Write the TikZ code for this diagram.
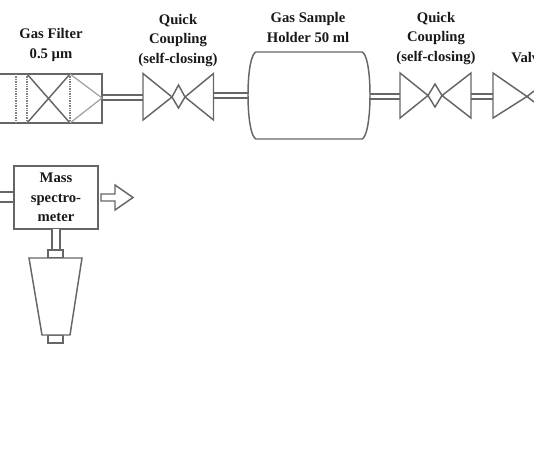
\documentclass[tikz,border=0pt]{standalone}
\usepackage{fontspec}
\setmainfont{Liberation Serif}
\usepackage{tikz}
\usetikzlibrary{positioning}

\begin{document}
\begin{tikzpicture}[
    x=0.75pt, y=-0.75pt,
    line/.style={draw=black!60, line width=1.1pt, line join=miter},
    faint/.style={draw=black!38, line width=0.9pt},
    dots/.style={draw=black!50, line width=1.1pt, dash pattern=on 1pt off 0.8pt},
    pipe/.style={draw=black!60, line width=1pt, double=white, double distance=2.6pt},
    widepipe/.style={pipe, double distance=6.4pt},
    lbl/.style={font=\fontsize{11pt}{14.6pt}\selectfont\bfseries, align=center, inner sep=0pt, text=black!90},
    box/.style={line, rectangle, inner sep=0pt},
    capbox/.style={box, minimum width=11.25pt, minimum height=6pt},
]
\useasboundingbox (0,0) rectangle (534,462);
\begin{scope}
\clip (0,0) rectangle (534,462);

% pipe ends
\coordinate (filterR) at (102,97.5);
\coordinate (couplingAL) at (143,97.5);
\coordinate (couplingAR) at (214,95.5);
\coordinate (holderL) at (248,95.5);
\coordinate (holderR) at (370,96.5);
\coordinate (couplingBL) at (400,96.5);
\coordinate (couplingBR) at (471,96.5);
\coordinate (valveL) at (493,96.5);
\coordinate (specIn) at (0,197);
\coordinate (specInEnd) at (14,197);
\coordinate (specOut) at (56,229);

\draw[pipe] (filterR) -- (couplingAL);
\draw[pipe] (couplingAR) -- (holderL);
\draw[pipe] (holderR) -- (couplingBL);
\draw[pipe] (couplingBR) -- (valveL);
\draw[widepipe] (specIn) -- (specInEnd);

% filter
\node[box, minimum width=91.5pt, minimum height=36.75pt] (filter) at (41,98.5) {};
\draw[dots] (16,74) -- (16,123) (27,74) -- (27,123) (70,74) -- (70,123);
\draw[line] (27,74) -- (70,123) (27,123) -- (70,74);
\draw[faint] (70,74) -- (102,98) -- (70,123);

% couplings
\draw[line] (143,73.5) -- (172,97) -- (143,120) -- cycle;
\draw[line] (172,97) -- (178.5,85) -- (185,97) -- (178.5,108) -- cycle;
\draw[line] (213.5,73.5) -- (185,97) -- (213.5,120) -- cycle;

\draw[line] (400,73) -- (428,95.5) -- (400,118) -- cycle;
\draw[line] (428,95.5) -- (435,84) -- (442,95.5) -- (435,107) -- cycle;
\draw[line] (471,73) -- (442,95.5) -- (471,118) -- cycle;

% valve
\draw[line] (493,73) -- (527,96.5) -- (493,118) -- cycle;
\draw[line] (527,96.5) -- (534,91) (527,96.5) -- (534,102);

% holder
\draw[line] (256,52) -- (362,52) .. controls (366,53) and (370,68) .. (370,95)
    .. controls (370,122) and (366,138) .. (362,139) -- (256,139)
    .. controls (252,138) and (248,122) .. (248,95)
    .. controls (248,68) and (252,53) .. (256,52) -- cycle;

% mass spectrometer
\node[box, lbl, minimum width=63pt, minimum height=47.25pt, draw=black!60] (spec) at (56,197.5) {Mass\\spectro-\\meter};
\node[capbox] (capTop) at (55.5,254) {};
\node[capbox] (capBot) at (55.5,339) {};
\draw[widepipe, double distance=5pt] (specOut) -- (capTop.north -| specOut);
\draw[line, fill=white] (29,258) -- (82,258) -- (70,335) -- (42,335) -- cycle;
\draw[line] (101,194) -- (115,194) -- (115,185) -- (133,197.5) -- (115,210) -- (115,201) -- (101,201) -- cycle;

% labels
\node[lbl] (filterLbl) at (51,45) {Gas Filter\\[1pt]0.5 µm};
\node[lbl] (couplingALbl) at (178,40.5) {Quick\\Coupling\\(self-closing)};
\node[lbl] (holderLbl) at (308,27.5) {Gas Sample\\Holder 50 ml};
\node[lbl] (couplingBLbl) at (436,38.5) {Quick\\Coupling\\(self-closing)};
\node[lbl, anchor=west] (valveLbl) at (511,58) {Valv};
\end{scope}
\end{tikzpicture}
\end{document}
